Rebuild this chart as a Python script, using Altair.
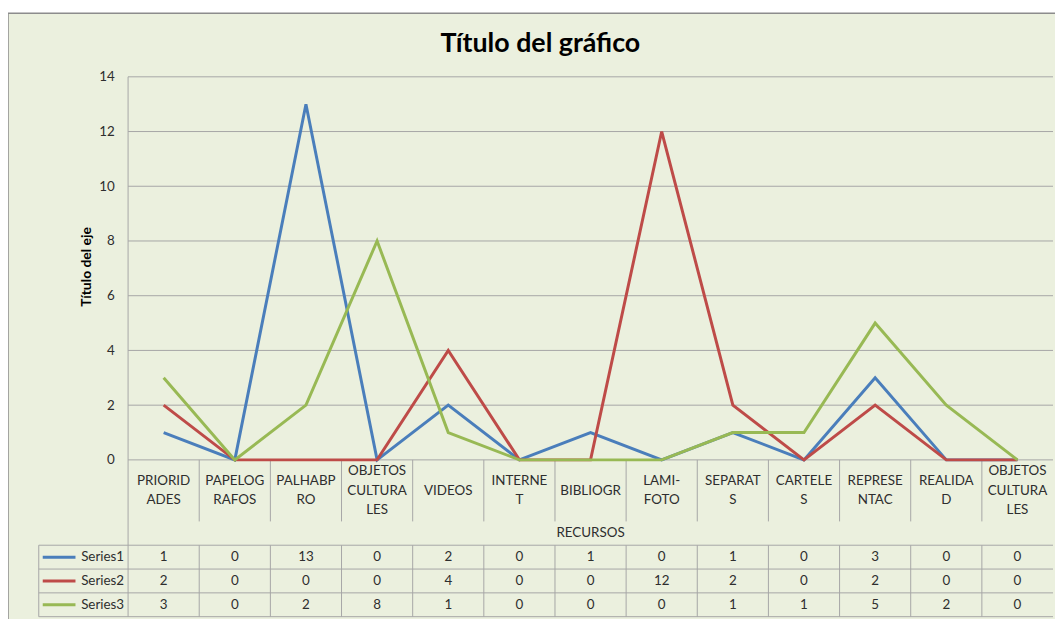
import altair as alt
import pandas as pd

# ---------------- data ----------------
categories = ["PRIORID\nADES", "PAPELOG\nRAFOS", "PALHABP\nRO", "OBJETOS\nCULTURA\nLES",
              "VIDEOS", "INTERNE\nT", "BIBLIOGR", "LAMI-\nFOTO", "SEPARAT\nS",
              "CARTELE\nS", "REPRESE\nNTAC", "REALIDA\nD", "OBJETOS\nCULTURA\nLES"]
series_names = ["Series1", "Series2", "Series3"]
series1 = [1, 0, 13, 0, 2, 0, 1, 0, 1, 0, 3, 0, 0]
series2 = [2, 0, 0, 0, 4, 0, 0, 12, 2, 0, 2, 0, 0]
series3 = [3, 0, 2, 8, 1, 0, 0, 0, 1, 1, 5, 2, 0]
y_ticks = [0, 2, 4, 6, 8, 10, 12, 14]
colors = ["#4A7EBB", "#BE4B48", "#98B954"]

title_text = "Título del gráfico"
y_title = "Título del eje"
x_title = "RECURSOS"

# ---------------- styling / layout ----------------
FONT = "Lato"
BG = "#EBF0DE"
GRID = "#A6A6A6"
TXT = "#2E2E2E"
W, H = 1023, 544          # plot group size
X0, X1 = 91, 1023         # category region inside group
Y_ZERO = 386              # pixel of value 0
ROW_LINES = [472, 496, 520, 544]
ROW_CENTERS = [484, 508, 532]
LABEL_CENTER = 417
LINE_H = 19.5
FS = 13.5

n = len(categories)
series_vals = [series1, series2, series3]

xscale = alt.Scale(domain=[-0.5, n - 0.5], range=[X0, X1], nice=False, zero=False)
yscale = alt.Scale(domain=[0, 14], range=[Y_ZERO, 0], nice=False, zero=True)

rows = []
for s, vals in zip(series_names, series_vals):
    for i, v in enumerate(vals):
        rows.append({"idx": i, "series": s, "value": v})
df_lines = pd.DataFrame(rows)
df_cats = pd.DataFrame({"idx": list(range(n)), "label": categories,
                        "nl": [c.count("\n") for c in categories]})
df_ticks = pd.DataFrame({"t": y_ticks})
df_one = pd.DataFrame({"k": [0]})
df_bnd_cat = pd.DataFrame({"b": [i + 0.5 for i in range(n - 1)]})
df_bnd_tab = pd.DataFrame({"b": [i - 0.5 for i in range(n)]})

layers = []

# chart background with border
layers.append(
    alt.Chart(df_one).mark_rect(fill=BG, stroke="#8C8C8C", strokeWidth=1.5).encode(
        x=alt.value(-30), x2=alt.value(1040), y=alt.value(-64), y2=alt.value(600)
    )
)

# horizontal gridlines
layers.append(
    alt.Chart(df_ticks).mark_rule(color=GRID, strokeWidth=1).encode(
        y=alt.Y("t:Q", scale=yscale,
                axis=alt.Axis(values=y_ticks, domain=False, ticks=False, grid=False,
                              labelPadding=14, offset=-X0, labelFont=FONT, labelFontSize=FS,
                              labelColor=TXT, title=y_title, titleFont=FONT, titleFontSize=14,
                              titleFontWeight="bold", titleColor="#000000",
                              titleX=-42, titleY=Y_ZERO / 2 - 2, titleAngle=270,
                              titleAlign="center", titleBaseline="middle", zindex=2)),
        x=alt.value(X0), x2=alt.value(X1),
    )
)

# left vertical axis line (extends into table)
layers.append(
    alt.Chart(df_one).mark_rule(color=GRID, strokeWidth=1).encode(
        x=alt.value(X0), y=alt.value(0), y2=alt.value(ROW_LINES[0])
    )
)

# column separators in category-label row
layers.append(
    alt.Chart(df_bnd_cat).mark_rule(color=GRID, strokeWidth=1).encode(
        x=alt.X("b:Q", scale=xscale, axis=None),
        y=alt.value(Y_ZERO), y2=alt.value(448)
    )
)
# column separators in data table rows
layers.append(
    alt.Chart(df_bnd_tab).mark_rule(color=GRID, strokeWidth=1).encode(
        x=alt.X("b:Q", scale=xscale, axis=None),
        y=alt.value(ROW_LINES[0]), y2=alt.value(ROW_LINES[-1])
    )
)
# legend column left border
layers.append(
    alt.Chart(df_one).mark_rule(color=GRID, strokeWidth=1).encode(
        x=alt.value(1), y=alt.value(ROW_LINES[0]), y2=alt.value(ROW_LINES[-1])
    )
)
# horizontal table lines
for yl in ROW_LINES:
    layers.append(
        alt.Chart(df_one).mark_rule(color=GRID, strokeWidth=1).encode(
            x=alt.value(1), x2=alt.value(X1), y=alt.value(yl)
        )
    )

# series lines
layers.append(
    alt.Chart(df_lines).mark_line(strokeWidth=3).encode(
        x=alt.X("idx:Q", scale=xscale, axis=None),
        y=alt.Y("value:Q", scale=yscale),
        color=alt.Color("series:N", scale=alt.Scale(domain=series_names, range=colors), legend=None),
        detail="series:N",
    )
)

# category labels (vertically centred blocks of wrapped text)
layers.append(
    alt.Chart(df_cats).transform_calculate(
        py=f"{LABEL_CENTER} - datum.nl * {LINE_H} / 2"
    ).mark_text(font=FONT, fontSize=FS, color=TXT, lineBreak="\n",
                lineHeight=LINE_H, baseline="middle", align="center").encode(
        x=alt.X("idx:Q", scale=xscale, axis=None),
        y=alt.Y("py:Q", scale=None),
        text="label:N",
    )
)

# x title (RECURSOS)
layers.append(
    alt.Chart(pd.DataFrame({"t": [x_title]})).mark_text(
        font=FONT, fontSize=FS, color=TXT, baseline="middle", align="center").encode(
        x=alt.value((X0 + X1) / 2), y=alt.value(460), text="t:N"
    )
)

# data table values and legend column
for k, (s, vals) in enumerate(zip(series_names, series_vals)):
    df_s = pd.DataFrame({"idx": list(range(n)), "v": vals})
    layers.append(
        alt.Chart(df_s).mark_text(font=FONT, fontSize=FS, color=TXT, baseline="middle",
                                  align="center").encode(
            x=alt.X("idx:Q", scale=xscale, axis=None),
            y=alt.value(ROW_CENTERS[k]),
            text="v:Q",
        )
    )
    layers.append(
        alt.Chart(pd.DataFrame({"s": [s]})).mark_rule(color=colors[k], strokeWidth=3).encode(
            x=alt.value(5), x2=alt.value(38), y=alt.value(ROW_CENTERS[k])
        )
    )
    layers.append(
        alt.Chart(pd.DataFrame({"s": [s]})).mark_text(font=FONT, fontSize=FS, color=TXT,
                                                       baseline="middle", align="right").encode(
            x=alt.value(87), y=alt.value(ROW_CENTERS[k]), text="s:N"
        )
    )

chart = alt.layer(*layers).properties(
    width=W, height=H,
    title=alt.Title(title_text, font=FONT, fontSize=27, fontWeight="bold", color="#000000",
                    anchor="middle", frame="group", dx=-5, offset=-46, zindex=2),
    autosize=alt.AutoSizeParams(type="none"),
    padding={"left": 30, "top": 67, "right": 2, "bottom": 0},
    background="white",
).configure_view(stroke=None)

chart.save("out.html", embed_options={"renderer": "svg", "actions": False})
